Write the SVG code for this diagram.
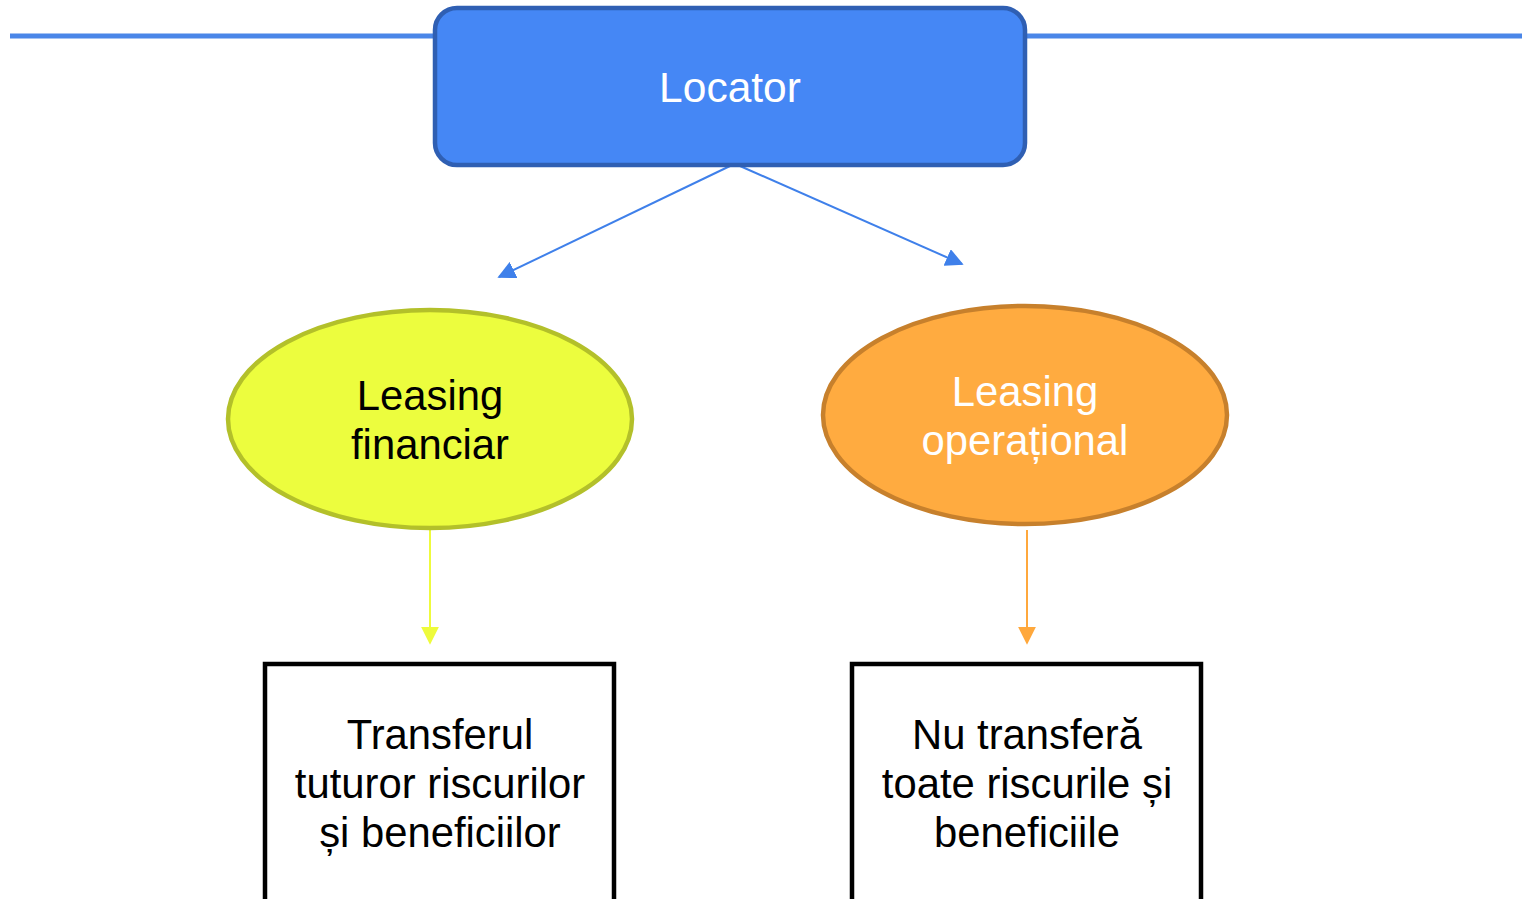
<svg xmlns="http://www.w3.org/2000/svg" width="1522" height="899" viewBox="0 0 1522 899">
<style>
text{font-family:"Liberation Sans",Arial,sans-serif;font-size:41.8px;text-anchor:middle}
.w{fill:#ffffff}
.b{fill:#000000}
.box{fill:#ffffff;stroke:#000000;stroke-width:4.5}
</style>
<defs>
<marker id="ab" viewBox="0 0 10 10" refX="9" refY="5" markerWidth="18" markerHeight="18" markerUnits="userSpaceOnUse" orient="auto"><path d="M0,0L10,5L0,10z" fill="#3f80ea"/></marker>
<marker id="ay" viewBox="0 0 10 10" refX="9" refY="5" markerWidth="18" markerHeight="18" markerUnits="userSpaceOnUse" orient="auto"><path d="M0,0L10,5L0,10z" fill="#eefb3c"/></marker>
<marker id="ao" viewBox="0 0 10 10" refX="9" refY="5" markerWidth="18" markerHeight="18" markerUnits="userSpaceOnUse" orient="auto"><path d="M0,0L10,5L0,10z" fill="#ffa83c"/></marker>
</defs>
<line x1="10" y1="36" x2="1522" y2="36" stroke="#4a86e8" stroke-width="5"/>
<g id="connectors">
<line x1="730" y1="166" x2="499" y2="277" stroke="#3f80ea" stroke-width="2" marker-end="url(#ab)"/>
<line x1="740" y1="166" x2="962" y2="264" stroke="#3f80ea" stroke-width="2" marker-end="url(#ab)"/>
<line x1="430" y1="530" x2="430" y2="643" stroke="#eefb3c" stroke-width="2" marker-end="url(#ay)"/>
<line x1="1027" y1="530" x2="1027" y2="643" stroke="#ffa83c" stroke-width="2" marker-end="url(#ao)"/>
</g>
<g id="locator">
<rect x="435" y="8" width="590" height="157" rx="22" fill="#4587f5" stroke="#2f5fb3" stroke-width="4.5"/>
<text class="w" x="730" y="102" style="font-size:42.5px">Locator</text>
</g>
<g id="leasing-financiar">
<ellipse cx="430" cy="419" rx="202" ry="109" fill="#ecfd3e" stroke="#b3c02a" stroke-width="4.5"/>
<text class="b" x="430" y="410">Leasing</text>
<text class="b" x="430" y="459">financiar</text>
</g>
<g id="leasing-operational">
<ellipse cx="1025" cy="415" rx="202" ry="109" fill="#ffab40" stroke="#c7802c" stroke-width="4.5"/>
<text class="w" x="1025" y="406">Leasing</text>
<text class="w" x="1025" y="455">operațional</text>
</g>
<g id="transfer">
<rect class="box" x="265" y="664" width="349" height="260"/>
<text class="b" x="440" y="749">Transferul</text>
<text class="b" x="440" y="798">tuturor riscurilor</text>
<text class="b" x="440" y="847">și beneficiilor</text>
</g>
<g id="nu-transfera">
<rect class="box" x="852" y="664" width="349" height="260"/>
<text class="b" x="1027" y="749">Nu transferă</text>
<text class="b" x="1027" y="798">toate riscurile și</text>
<text class="b" x="1027" y="847">beneficiile</text>
</g>
</svg>
